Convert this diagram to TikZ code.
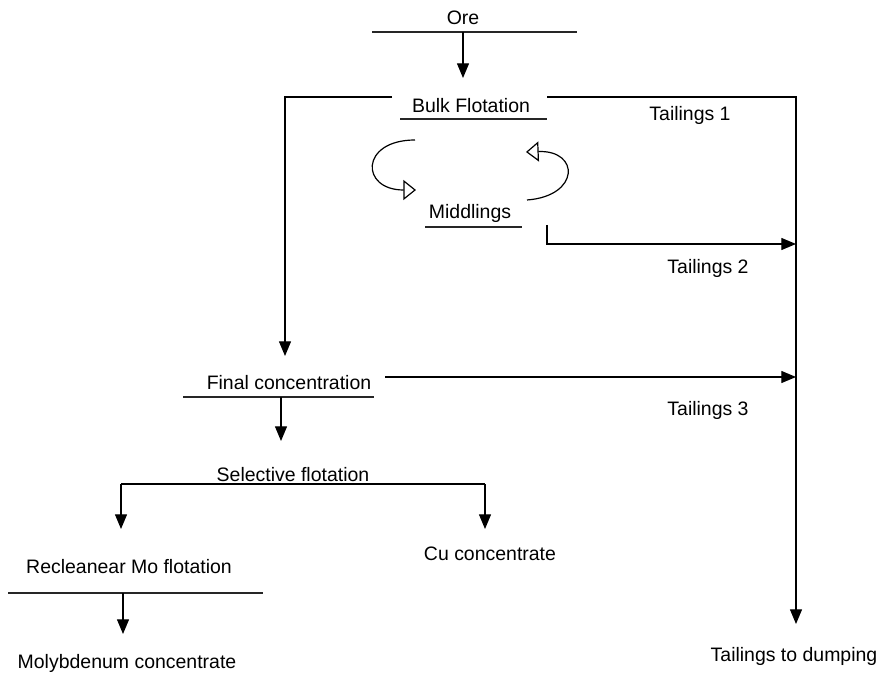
\documentclass[tikz,border=0pt]{standalone}
\usepackage{fontspec}
\setmainfont{Liberation Sans}
\usetikzlibrary{arrows.meta}
\begin{document}
\begin{tikzpicture}[x=0.75pt,y=-0.75pt,
  lbl/.style={inner sep=0pt,font=\fontsize{14.6}{16}\selectfont},
  uline/.style={line width=1.3pt,draw=black!85},
  flow/.style={line width=0.9pt,-{Triangle[length=11pt,width=9pt]}},
  plain/.style={line width=0.9pt},
  loopar/.style={line width=0.9pt,-{Triangle[open,length=9.5pt,width=15pt]}}]
\useasboundingbox (0,0) rectangle (882,677);
% texts
\node[lbl] (ore) at (463,18) {Ore};
\node[lbl] (bulk) at (471,106) {Bulk Flotation};
\node[lbl] (t1) at (690,115) {Tailings 1};
\node[lbl] (mid) at (470,213) {Middlings};
\node[lbl] (t2) at (708,268) {Tailings 2};
\node[lbl] (fin) at (289,383) {Final concentration};
\node[lbl] (t3) at (708,410) {Tailings 3};
\node[lbl] (sel) at (293,475) {Selective flotation};
\node[lbl] (cu) at (490,554) {Cu concentrate};
\node[lbl] (rec) at (129,567) {Recleanear Mo flotation};
\node[lbl] (moly) at (127,663) {Molybdenum concentrate};
\node[lbl] (dump) at (794,656) {Tailings to dumping};
% underlines
\draw[uline] (372,32) -- (577,32);
\draw[uline] (400,119) -- (547,119);
\draw[uline] (425,227) -- (522,227);
\draw[uline] (183,397) -- (374,397);
\draw[uline] (8,593) -- (263,593);
% coordinates
\coordinate (oreB) at (463,32);
\coordinate (bulkT) at (463,78);
\coordinate (bL) at (392,97);
\coordinate (bR) at (547,97);
\coordinate (cL) at (285,97);
\coordinate (finT) at (285,356);
\coordinate (cR) at (796,97);
\coordinate (dumpT) at (796,624);
\coordinate (m0) at (547,225);
\coordinate (m1) at (547,244);
\coordinate (m2) at (796,244);
\coordinate (f0) at (385,377);
\coordinate (f1) at (796,377);
\coordinate (fB) at (281,397);
\coordinate (selT) at (281,441);
\coordinate (sL) at (121,484);
\coordinate (sR) at (485,484);
\coordinate (recT) at (121,529);
\coordinate (cuT) at (485,529);
\coordinate (rB) at (123,593);
\coordinate (molyT) at (123,634);
% connectors
\draw[flow] (oreB) -- (bulkT);
\draw[flow] (bL) -- (cL) -- (finT);
\draw[flow] (bR) -- (cR) -- (dumpT);
\draw[flow] (m0) -- (m1) -- (m2);
\draw[flow] (f0) -- (f1);
\draw[flow] (fB) -- (selT);
\draw[plain] (sL) -- (sR);
\draw[flow] (sL) -- (recT);
\draw[flow] (sR) -- (cuT);
\draw[flow] (rB) -- (molyT);
% recycle loops
\draw[loopar] (415,140) .. controls (360,140) and (360,190) .. (416,190);
\draw[loopar] (527,200) .. controls (580,196) and (580,150) .. (526,152);
\end{tikzpicture}
\end{document}
